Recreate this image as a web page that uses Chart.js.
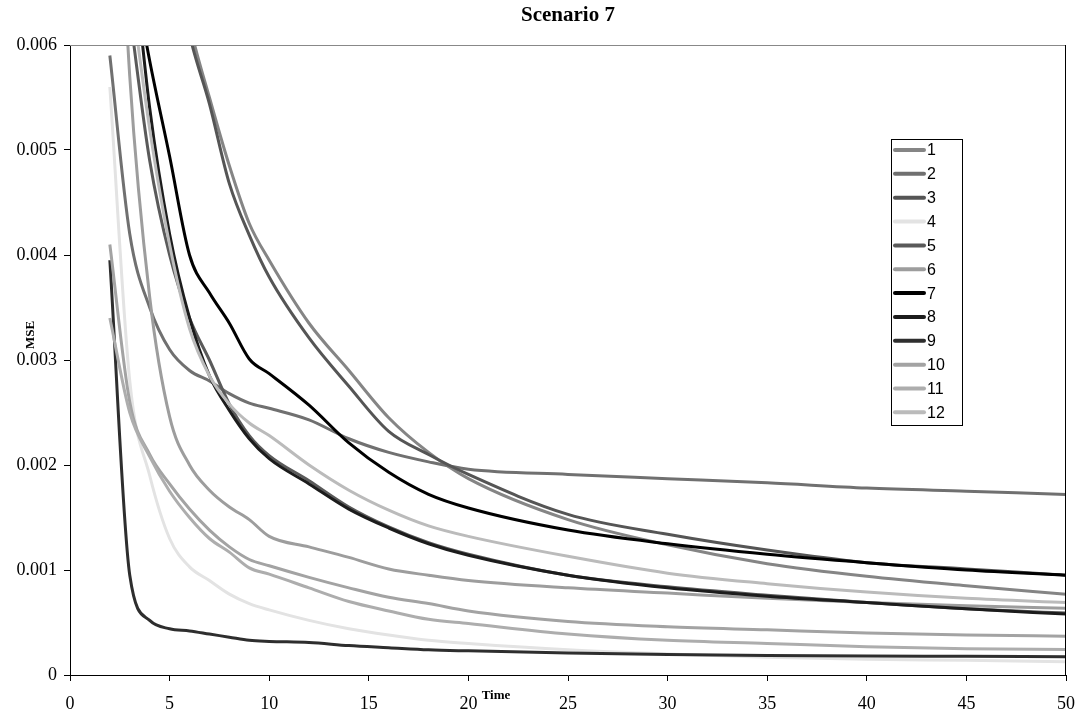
<!DOCTYPE html>
<html><head><meta charset="utf-8">
<script src="https://cdn.jsdelivr.net/npm/chart.js@4.4.1/dist/chart.umd.min.js"></script>
<style>html,body{margin:0;padding:0;background:#fff;}#wrap{width:1080px;height:715px;position:relative;}</style>
</head><body><div id="wrap"><canvas id="c" width="1080" height="715"></canvas></div>
<script>
const chartTitle = 'Scenario 7';
const xTitle = 'Time';
const yTitle = 'MSE';
const time = [2,3,4,5,6,7,8,9,10,12,14,16,18,20,25,30,35,40,45,50];
const seriesNames = ['1','2','3','4','5','6','7','8','9','10','11','12'];
const s1  = [null,null,null,0.0072,0.0062,0.0055,0.00485,0.0043,0.00395,0.00335,0.0029,0.00245,0.00212,0.00187,0.00148,0.00124,0.00106,0.00094,0.00085,0.00077];
const s2  = [0.0059,0.0042,0.0035,0.0031,0.0029,0.0028,0.00268,0.00259,0.00254,0.00243,0.00225,0.00212,0.00203,0.00196,0.00191,0.00187,0.00183,0.00178,0.00175,0.00172];
const s3  = [null,null,null,0.0071,0.0061,0.00544,0.00468,0.00419,0.00379,0.00321,0.00275,0.00232,0.0021,0.00191,0.00153,0.00134,0.00119,0.00107,0.00101,0.00095];
const s4  = [0.0056,0.0028,0.0019,0.0013,0.00103,0.0009,0.00077,0.00068,0.00062,0.00052,0.00044,0.00038,0.00033,0.0003,0.00024,0.0002,0.00017,0.00015,0.00014,0.000127];
const s5  = [null,0.0063,0.0049,0.0040,0.0034,0.0030,0.00258,0.00228,0.00209,0.00185,0.0016,0.00141,0.00126,0.00115,0.00095,0.00084,0.00076,0.00069,0.00063,0.00059];
const s6  = [0.0095,0.0057,0.0036,0.00246,0.002,0.00176,0.0016,0.00148,0.00132,0.00122,0.00112,0.00101,0.00095,0.0009,0.00083,0.00078,0.00073,0.00069,0.00066,0.000635];
const s7  = [null,0.0069,0.00585,0.00494,0.004,0.00364,0.00335,0.00301,0.00287,0.00257,0.00221,0.00193,0.00172,0.00159,0.00138,0.00125,0.00115,0.00107,0.001,0.00095];
const s8  = [null,0.0072,0.0054,0.0042,0.0034,0.00285,0.00252,0.00225,0.00206,0.00182,0.00158,0.0014,0.00125,0.00114,0.00095,0.00083,0.00075,0.00069,0.00063,0.00058];
const s9  = [0.00395,0.00095,0.00052,0.00044,0.00042,0.00039,0.00036,0.00033,0.00032,0.00031,0.00028,0.00026,0.00024,0.00023,0.00021,0.000195,0.000185,0.00018,0.000178,0.000175];
const s10 = [0.0041,0.0026,0.0021,0.00182,0.00158,0.00138,0.00122,0.0011,0.00104,0.00093,0.00083,0.00074,0.00068,0.00061,0.00051,0.00046,0.00043,0.0004,0.00038,0.00037];
const s11 = [0.0034,0.0025,0.00208,0.00175,0.0015,0.0013,0.00117,0.00102,0.00096,0.00083,0.0007,0.00061,0.00053,0.00049,0.00039,0.00033,0.0003,0.00027,0.00025,0.000244];
const s12 = [null,0.0066,0.0052,0.0041,0.0033,0.00285,0.00258,0.0024,0.00228,0.002,0.00176,0.00157,0.00142,0.00132,0.00113,0.00097,0.00087,0.00079,0.00073,0.00069];
const allSeries = [s1,s2,s3,s4,s5,s6,s7,s8,s9,s10,s11,s12];
const seriesColors = ['#858585','#707070','#555555','#e3e3e3','#5a5a5a','#9d9d9d','#000000','#1c1c1c','#2e2e2e','#a3a3a3','#adadad','#bbbbbb'];
const xMin = 0, xMax = 50, xStep = 5;
const yMin = 0, yMax = 0.006, yStep = 0.001;

const datasets = allSeries.map((arr, i) => ({
  label: seriesNames[i],
  data: time.map((t, j) => ({x: t, y: arr[j]})).filter(p => p.y !== null),
  borderColor: seriesColors[i],
  backgroundColor: seriesColors[i],
  borderWidth: 3,
  pointRadius: 0,
  fill: false,
  cubicInterpolationMode: 'monotone',
  order: allSeries.length - i
}));

const serif = '"Liberation Serif", "Times New Roman", serif';
const sans = '"Liberation Sans", Arial, sans-serif';

const decor = {
  id: 'decor',
  afterDraw(chart) {
    const ctx = chart.ctx, a = chart.chartArea;
    ctx.save();
    ctx.lineWidth = 1;
    ctx.strokeStyle = '#888';
    ctx.beginPath(); ctx.moveTo(a.left, a.top + 0.5); ctx.lineTo(a.right, a.top + 0.5); ctx.stroke();
    ctx.strokeStyle = '#000';
    ctx.beginPath(); ctx.moveTo(a.right - 0.5, a.top); ctx.lineTo(a.right - 0.5, a.bottom); ctx.stroke();
    ctx.fillStyle = '#000';
    ctx.textAlign = 'center'; ctx.textBaseline = 'middle';
    ctx.font = 'bold 21px ' + serif;
    ctx.fillText(chartTitle, (a.left + a.right) / 2, 16);
    ctx.font = 'bold 13px ' + serif;
    ctx.fillText(xTitle, 496, 696);
    ctx.save();
    ctx.translate(31, 335);
    ctx.rotate(-Math.PI / 2);
    ctx.fillText(yTitle, 0, 0);
    ctx.restore();
    const lx = 891, ly = 139, lw = 71, lh = 286;
    ctx.fillStyle = '#fff';
    ctx.fillRect(lx, ly, lw, lh);
    ctx.strokeStyle = '#000'; ctx.lineWidth = 1;
    ctx.strokeRect(lx + 0.5, ly + 0.5, lw, lh);
    ctx.font = '16px ' + sans;
    ctx.textAlign = 'left';
    chart.data.datasets.forEach((d, i) => {
      const y = 150 + i * 23.85;
      ctx.strokeStyle = d.borderColor;
      ctx.lineWidth = 4; ctx.lineCap = 'round';
      ctx.beginPath(); ctx.moveTo(895, y); ctx.lineTo(924, y); ctx.stroke();
      ctx.fillStyle = '#000';
      ctx.fillText(d.label, 927, y + 1);
    });
    ctx.restore();
  }
};

new Chart(document.getElementById('c'), {
  type: 'line',
  data: { datasets },
  options: {
    responsive: false,
    animation: false,
    devicePixelRatio: 1,
    layout: { padding: { left: 0, top: 45, right: 14, bottom: 0 } },
    plugins: { legend: { display: false }, title: { display: false }, tooltip: { enabled: false } },
    scales: {
      x: {
        type: 'linear', min: xMin, max: xMax,
        ticks: { stepSize: xStep, color: '#000', font: { family: serif, size: 18 }, padding: 12, maxRotation: 0 },
        grid: { drawOnChartArea: false, drawTicks: true, tickLength: 6, color: '#000' },
        border: { display: true, color: '#000', width: 1 },
        afterFit(s) { s.height = 40; s.paddingLeft = 0; s.paddingRight = 0; }
      },
      y: {
        type: 'linear', min: yMin, max: yMax,
        ticks: { stepSize: yStep, color: '#000', font: { family: serif, size: 18 }, padding: 7,
          callback: v => (Math.abs(v) < 1e-12 ? '0' : v.toFixed(3)) },
        grid: { drawOnChartArea: false, drawTicks: true, tickLength: 6, color: '#000' },
        border: { display: true, color: '#000', width: 1 },
        afterFit(s) { s.width = 70; s.paddingTop = 0; s.paddingBottom = 0; }
      }
    }
  },
  plugins: [decor]
});
</script>
</body></html>
